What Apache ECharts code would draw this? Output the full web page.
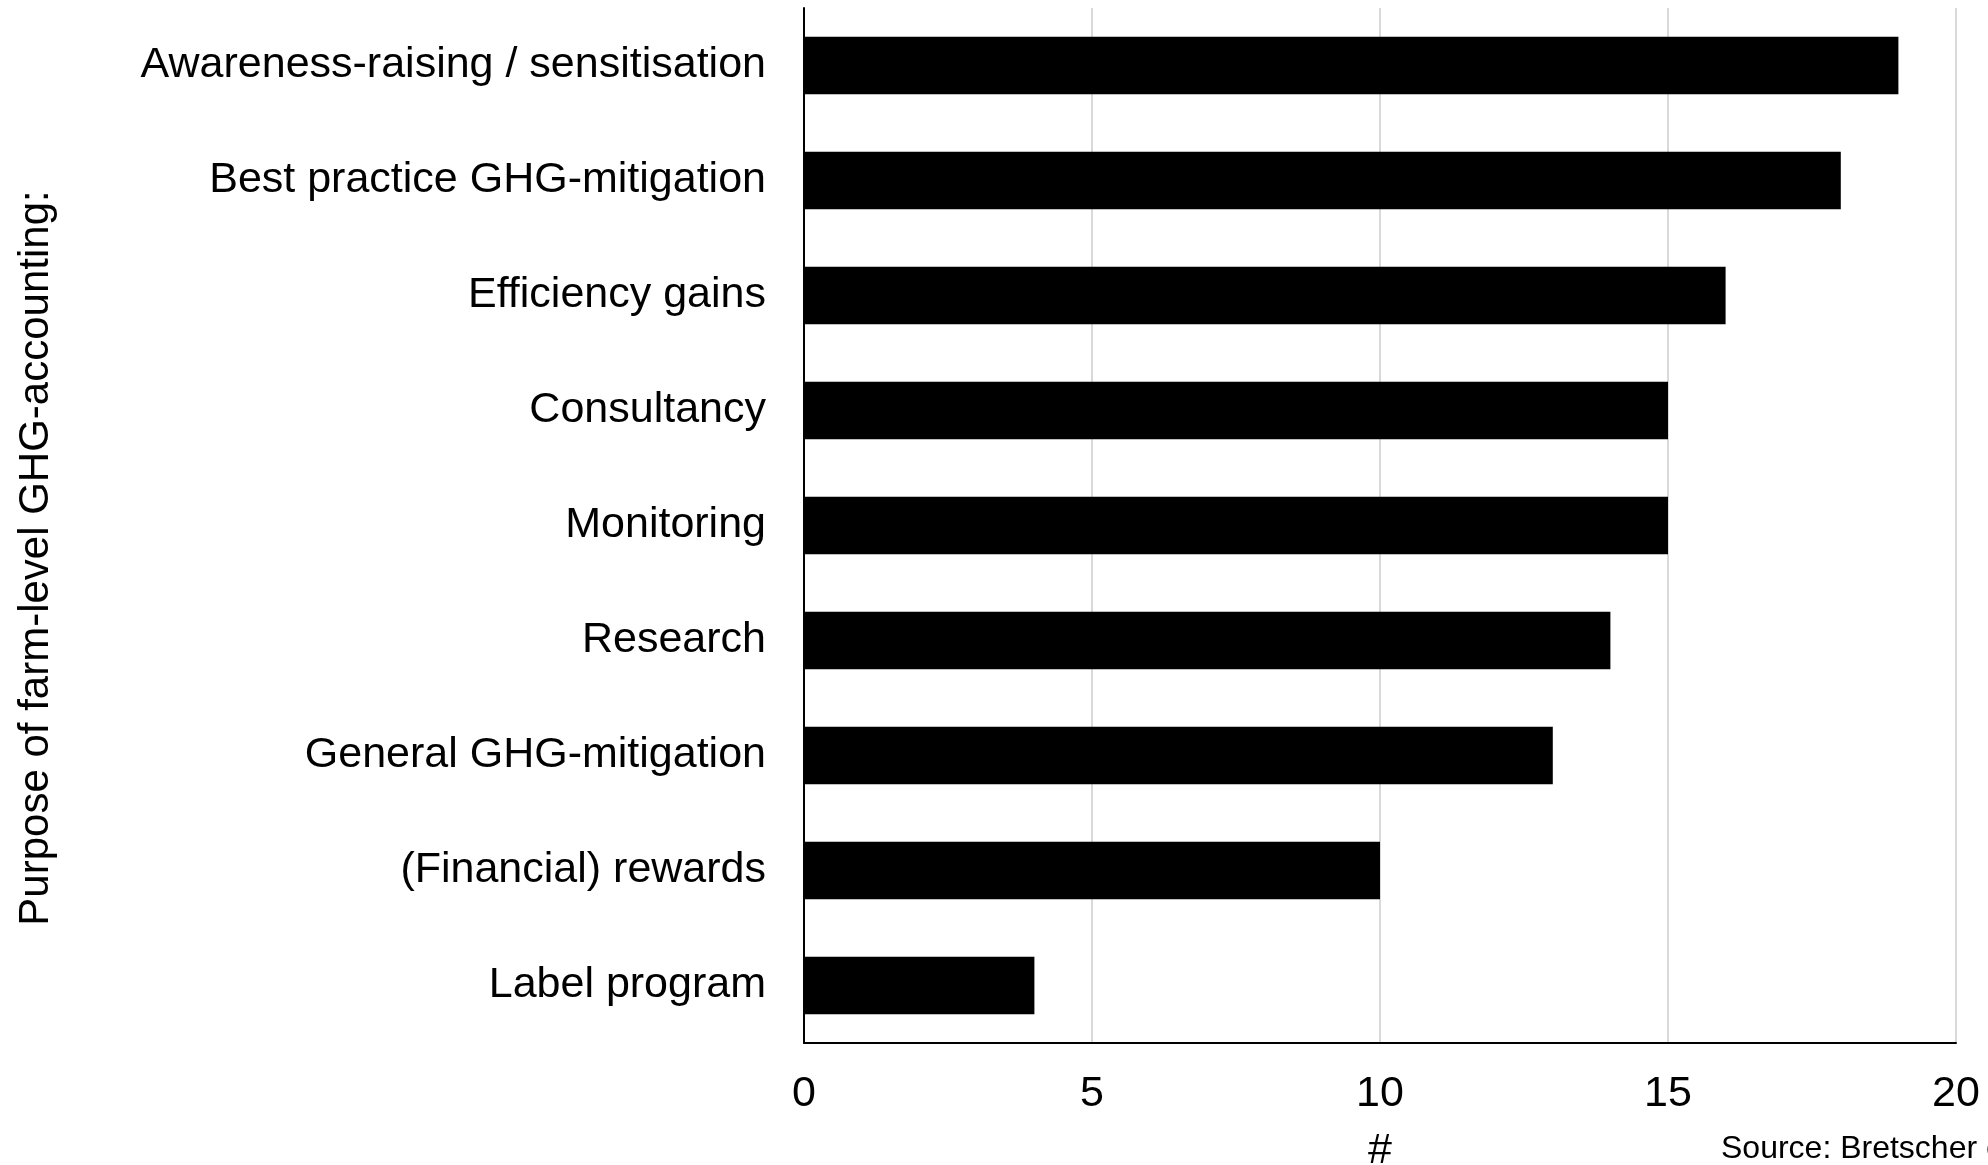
<!DOCTYPE html>
<html>
<head>
<meta charset="utf-8">
<script src="https://cdn.jsdelivr.net/npm/echarts@6/dist/echarts.min.js"></script>
<style>
  html, body { margin: 0; padding: 0; background: #ffffff; }
  #chart { width: 1988px; height: 1165px; }
</style>
</head>
<body>
<div id="chart"></div>
<script>
// Purposes of farm-level GHG accounting (top to bottom)
const categories = [
  'Awareness-raising / sensitisation',
  'Best practice GHG-mitigation',
  'Efficiency gains',
  'Consultancy',
  'Monitoring',
  'Research',
  'General GHG-mitigation',
  '(Financial) rewards',
  'Label program'
];
// Number of mentions per purpose
const counts = [19, 18, 16, 15, 15, 14, 13, 10, 4];
// Value axis ticks
const xTicks = [0, 5, 10, 15, 20];

const FONT = "'Liberation Sans', Arial, Helvetica, sans-serif";

const chart = echarts.init(document.getElementById('chart'), null, { renderer: 'canvas' });

chart.setOption({
  backgroundColor: '#ffffff',
  animation: false,
  textStyle: { fontFamily: FONT, color: '#000000' },
  grid: {
    left: 804, right: 32, top: 8, bottom: 122,
    containLabel: false,
    outerBoundsMode: 'none'
  },
  xAxis: {
    type: 'value',
    min: xTicks[0],
    max: xTicks[xTicks.length - 1],
    interval: xTicks[1] - xTicks[0],
    name: '#',
    nameLocation: 'middle',
    nameGap: 87,
    nameTextStyle: { fontFamily: FONT, fontSize: 43, color: '#000000' },
    axisLine: { show: true, lineStyle: { color: '#000000', width: 2 } },
    axisTick: { show: false },
    axisLabel: { fontFamily: FONT, fontSize: 43, color: '#000000', margin: 30 },
    splitLine: { show: true, lineStyle: { color: '#d9d9d9', width: 2 } }
  },
  yAxis: {
    type: 'category',
    data: categories,
    inverse: true,
    axisLine: { show: true, lineStyle: { color: '#000000', width: 2 } },
    axisTick: { show: false },
    axisLabel: { fontFamily: FONT, fontSize: 43, color: '#000000', margin: 38 },
    splitLine: { show: false }
  },
  series: [{
    type: 'bar',
    data: counts,
    barCategoryGap: '50%',
    itemStyle: { color: '#000000' }
  }],
  graphic: [
    {
      // vertical title of the category axis
      type: 'text',
      x: 36,
      y: 558,
      rotation: Math.PI / 2,
      style: {
        text: 'Purpose of farm-level GHG-accounting:',
        fontFamily: FONT,
        fontSize: 42,
        fill: '#000000',
        align: 'center',
        verticalAlign: 'middle'
      }
    },
    {
      type: 'text',
      left: 1721,
      top: 1133,
      style: {
        text: 'Source: Bretscher et al.',
        fontFamily: FONT,
        fontSize: 32,
        fill: '#000000'
      }
    }
  ]
});
</script>
</body>
</html>
